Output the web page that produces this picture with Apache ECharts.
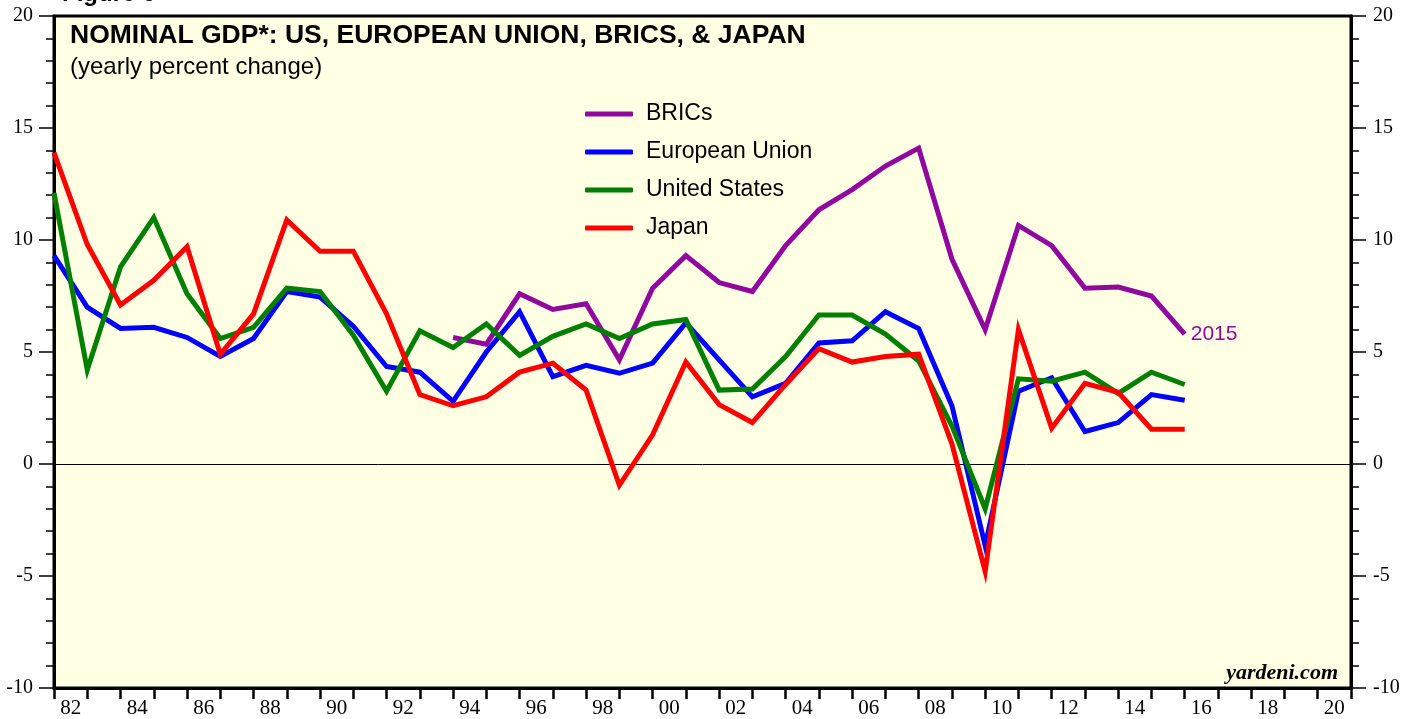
<!DOCTYPE html>
<html>
<head>
<meta charset="utf-8">
<script src="https://cdn.jsdelivr.net/npm/echarts@6/dist/echarts.min.js"></script>
<style>
  html, body { margin: 0; padding: 0; background: #ffffff; }
  #chart { width: 1416px; height: 719px; }
</style>
</head>
<body>
<div id="chart"></div>
<script>
// Data years (annual values, each plotted at the end of its year)
const years = [1981,1982,1983,1984,1985,1986,1987,1988,1989,1990,1991,1992,1993,1994,1995,1996,1997,1998,1999,2000,2001,2002,2003,2004,2005,2006,2007,2008,2009,2010,2011,2012,2013,2014,2015];

const brics = [null,null,null,null,null,null,null,null,null,null,null,null,
  5.65,5.35,7.6,6.9,7.15,4.65,7.85,9.3,8.1,7.7,9.75,11.35,12.25,13.3,14.1,9.15,6.0,10.65,9.75,7.85,7.9,7.5,5.8];
const europeanUnion = [9.3,7.0,6.05,6.1,5.65,4.8,5.6,7.7,7.45,6.15,4.35,4.1,2.8,5.0,6.8,3.9,4.4,4.05,4.5,6.3,4.65,3.0,3.6,5.4,5.5,6.8,6.05,2.6,-3.65,3.25,3.85,1.45,1.85,3.1,2.85];
const unitedStates = [12.1,4.2,8.8,11.0,7.6,5.6,6.1,7.85,7.7,5.75,3.25,5.95,5.2,6.25,4.85,5.7,6.25,5.6,6.25,6.45,3.3,3.35,4.8,6.65,6.65,5.8,4.6,1.7,-2.0,3.8,3.7,4.1,3.15,4.1,3.55];
const japan = [13.9,9.8,7.1,8.2,9.7,4.9,6.7,10.9,9.5,9.5,6.7,3.1,2.6,3.0,4.1,4.5,3.3,-0.95,1.3,4.55,2.65,1.85,3.55,5.15,4.55,4.8,4.9,0.9,-4.8,6.0,1.6,3.6,3.2,1.55,1.55];

// X-axis tick labels (year bands 1982..2020)
const axisYears = ['82','83','84','85','86','87','88','89','90','91','92','93','94','95','96','97','98','99','00','01','02','03','04','05','06','07','08','09','10','11','12','13','14','15','16','17','18','19','20'];

const seriesNames = ['BRICs', 'European Union', 'United States', 'Japan'];
const lastLabel = '2015';
const titleText = 'NOMINAL GDP*: US, EUROPEAN UNION, BRICS, & JAPAN';
const subtitleText = '(yearly percent change)';
const figureText = 'Figure 6';
const sourceText = 'yardeni.com';

const colors = { brics: '#91089F', eu: '#0000FF', us: '#007F00', japan: '#FF0000' };

function pairs(vals) {
  // annual value plotted at the end of its year (start of following year)
  return years.map((y, i) => [y + 1, vals[i]]);
}

const SANS = '"Liberation Sans", Arial, sans-serif';
const SERIF = '"Liberation Serif", "Times New Roman", serif';

function lineSeries(name, vals, color, extra) {
  return Object.assign({
    name: name,
    type: 'line',
    xAxisIndex: 0,
    yAxisIndex: 0,
    data: pairs(vals),
    showSymbol: false,
    symbol: 'none',
    connectNulls: false,
    lineStyle: { color: color, width: 5, join: 'miter' },
    itemStyle: { color: color },
    z: 5
  }, extra || {});
}

const chart = echarts.init(document.getElementById('chart'), null, { renderer: 'canvas' });

const yAxisCommon = {
  type: 'value',
  min: -10,
  max: 20,
  interval: 5,
  axisLine: { show: true, onZero: false, lineStyle: { color: '#000', width: 3 } },
  axisTick: { show: true, inside: false, length: 15, lineStyle: { color: '#000', width: 1.5 } },
  minorTick: { show: true, splitNumber: 5, length: 8, lineStyle: { color: '#000', width: 1.5 } },
  axisLabel: { color: '#000', fontFamily: SERIF, fontSize: 20, margin: 21 },
  minorSplitLine: { show: false }
};

chart.setOption({
  animation: false,
  backgroundColor: '#ffffff',
  grid: {
    show: true,
    left: 54,
    right: 65,
    top: 16,
    bottom: 31,
    backgroundColor: '#FFFFE4',
    borderColor: '#000',
    borderWidth: 3
  },
  xAxis: [
    {
      type: 'value',
      min: 1982,
      max: 2021,
      show: false
    },
    {
      type: 'category',
      position: 'bottom',
      data: axisYears,
      boundaryGap: true,
      axisLine: { show: true, onZero: false, lineStyle: { color: '#000', width: 3 } },
      axisTick: { show: true, inside: false, interval: 0, length: 11, alignWithLabel: false, lineStyle: { color: '#000', width: 2.5 } },
      axisLabel: { interval: 1, color: '#000', fontFamily: SERIF, fontSize: 21, margin: 10 },
      splitLine: { show: false }
    }
  ],
  yAxis: [
    Object.assign({}, yAxisCommon, {
      position: 'left',
      splitLine: {
        show: true,
        lineStyle: {
          width: 1,
          color: ['rgba(0,0,0,0)', 'rgba(0,0,0,0)', '#000000', 'rgba(0,0,0,0)', 'rgba(0,0,0,0)', 'rgba(0,0,0,0)', 'rgba(0,0,0,0)']
        }
      }
    }),
    Object.assign({}, yAxisCommon, {
      position: 'right',
      axisLabel: { color: '#000', fontFamily: SERIF, fontSize: 20, margin: 22 },
      splitLine: { show: false }
    })
  ],
  legend: {
    orient: 'vertical',
    left: 580,
    top: 97,
    icon: 'roundRect',
    itemWidth: 48,
    itemHeight: 5,
    itemGap: 14,
    data: seriesNames,
    textStyle: { color: '#000', fontFamily: SANS, fontSize: 23, lineHeight: 24, padding: [0, 0, 0, 8] }
  },
  series: [
    lineSeries(seriesNames[0], brics, colors.brics, {
      endLabel: {
        show: true,
        formatter: lastLabel,
        color: colors.brics,
        fontFamily: SANS,
        fontSize: 21,
        distance: 6
      }
    }),
    lineSeries(seriesNames[1], europeanUnion, colors.eu),
    lineSeries(seriesNames[2], unitedStates, colors.us),
    lineSeries(seriesNames[3], japan, colors.japan)
  ],
  graphic: [
    {
      type: 'text', z: 100, x: 62, y: 6,
      style: { text: figureText, font: 'bold 24px ' + SANS, fill: '#000', verticalAlign: 'bottom' }
    },
    {
      type: 'text', z: 100, x: 70, y: 36,
      style: { text: titleText, font: 'bold 26.5px ' + SANS, fill: '#000', verticalAlign: 'middle' }
    },
    {
      type: 'text', z: 100, x: 70, y: 67,
      style: { text: subtitleText, font: '24px ' + SANS, fill: '#000', verticalAlign: 'middle' }
    },
    {
      type: 'text', z: 100, x: 1338, y: 673,
      style: { text: sourceText, font: 'italic bold 22px ' + SERIF, fill: '#000', align: 'right', verticalAlign: 'middle' }
    }
  ]
});
</script>
</body>
</html>
